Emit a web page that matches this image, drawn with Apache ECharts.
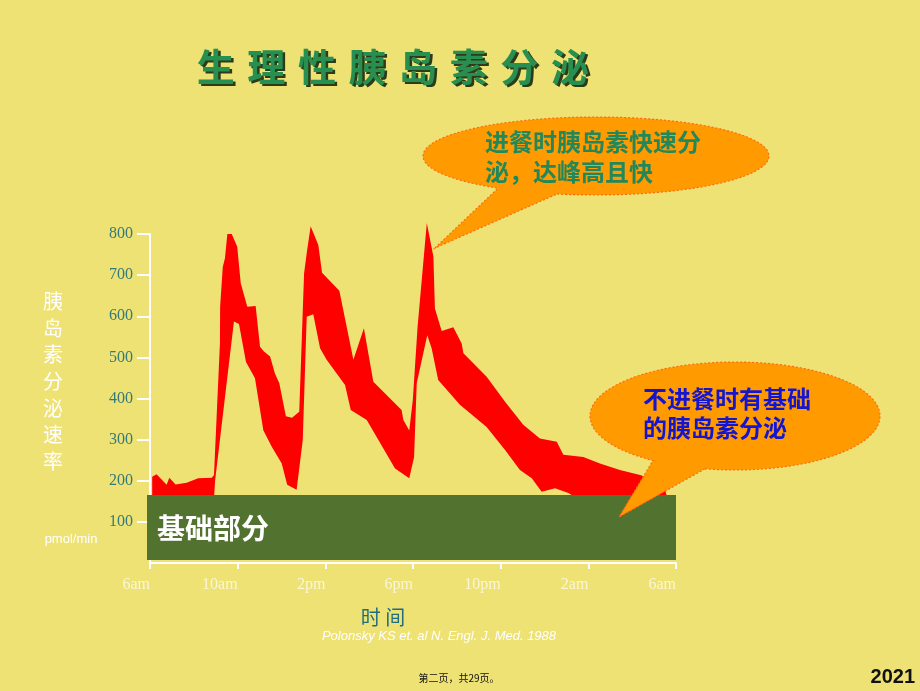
<!DOCTYPE html>
<html>
<head>
<meta charset="utf-8">
<script src="https://cdn.jsdelivr.net/npm/echarts@6/dist/echarts.min.js"></script>
<style>
html,body{margin:0;padding:0;background:#EEE275;}
#chart{width:920px;height:691px;}
</style>
</head>
<body>
<div id="chart"></div>
<script>
// ---- data ----
const timeLabels = ['6am', '10am', '2pm', '6pm', '10pm', '2am', '6am'];
const yTicks = [100, 200, 300, 400, 500, 600, 700, 800];
// upper edge of the secretion band: [hours after 6am, pmol/min]
const upperBand = [[0.1,210],[0.3,216],[0.76,190],[0.88,207],[1.17,191],[1.67,195],[2.2,206],[2.82,207],[2.92,214],[3.19,534],[3.2,623],[3.32,720],[3.42,741],[3.53,800],[3.73,800],[3.98,769],[4.14,680],[4.44,623],[4.82,625],[5.02,526],[5.2,514],[5.48,502],[5.7,461],[5.9,437],[6.2,357],[6.48,353],[6.81,368],[7.03,704],[7.15,753],[7.33,819],[7.68,773],[7.85,706],[8.64,662],[9.28,494],[9.76,571],[10.19,441],[11.48,372],[11.56,348],[11.83,322],[11.99,396],[12.21,575],[12.63,827],[12.93,745],[13.0,619],[13.31,564],[13.84,573],[14.22,534],[14.3,510],[15.36,453],[16.2,392],[17.03,336],[17.79,303],[18.56,295],[18.86,263],[19.77,258],[20.53,242],[21.44,226],[22.36,214],[23.42,194],[23.57,165],[23.57,140]];
// lower edge of the band
const lowerBand = [[0.1,140],[2.9,140],[2.97,200],[3.83,587],[4.06,581],[4.38,489],[4.79,449],[5.17,323],[5.55,283],[6.01,242],[6.26,190],[6.69,178],[6.97,299],[7.15,599],[7.45,605],[7.76,522],[8.06,494],[8.9,433],[9.16,372],[9.89,348],[11.18,230],[11.83,206],[12.05,258],[12.17,437],[12.65,554],[12.85,522],[13.15,445],[14.14,385],[15.36,331],[16.2,275],[16.88,226],[17.42,206],[17.87,173],[18.48,182],[19.09,170],[20,140],[23.57,140]];

const titleText = '生理性胰岛素分泌';
const yName = '胰岛素分泌速率';
const callout1Lines = ['进餐时胰岛素快速分', '泌，达峰高且快'];
const callout2Lines = ['不进餐时有基础', '的胰岛素分泌'];

// ---- chart ----
const chart = echarts.init(document.getElementById('chart'));
const CJK = "'Noto Sans CJK SC', sans-serif";
const graphics = [];

// base box
graphics.push({type:'rect', z:100, shape:{x:147, y:495, width:529, height:65}, style:{fill:'#52732F'}});
graphics.push({type:'text', z:101, x:157, y:528, style:{text:'基础部分', font:'bold 28px ' + CJK, fill:'#ffffff', textAlign:'left', textVerticalAlign:'middle'}});

// callouts (ellipse + tail outline as one polygon)
function callout(cx, cy, rx, ry, ax, bx, tipX, tipY) {
  const tA = Math.acos((ax - cx) / rx);
  const tB = Math.acos((bx - cx) / rx);
  const pts = [];
  const n = 120;
  const end = tA - 2 * Math.PI;
  for (let i = 0; i <= n; i++) {
    const t = tB + (end - tB) * i / n;
    pts.push([cx + rx * Math.cos(t), cy + ry * Math.sin(t)]);
  }
  pts.push([tipX, tipY]);
  return {
    type:'polygon', z:110,
    shape:{points:pts},
    style:{fill:'#FF9A00', stroke:'#FF6A10', lineWidth:1.2, lineDash:[2,2]}
  };
}
graphics.push(callout(596, 156, 173, 39, 498, 557, 435, 248));
graphics.push(callout(735, 416, 145, 54, 653, 705, 619, 517));
callout1Lines.forEach(function (t, i) {
  graphics.push({type:'text', z:111, x:485, y:142 + i * 30, style:{text:t, font:'bold 24px ' + CJK, fill:'#22885A', textAlign:'left', textVerticalAlign:'middle'}});
});
callout2Lines.forEach(function (t, i) {
  graphics.push({type:'text', z:111, x:643, y:399 + i * 29, style:{text:t, font:'bold 24px ' + CJK, fill:'#1515D0', textAlign:'left', textVerticalAlign:'middle'}});
});

// title with spread characters and shadow
titleText.split('').forEach(function (ch, i) {
  const cx = 215.7 + i * 50.6;
  graphics.push({type:'text', z:90, x:cx + 2.5, y:69, style:{text:ch, font:'bold 38px ' + CJK, fill:'#2E3A18', textAlign:'center', textVerticalAlign:'middle'}});
  graphics.push({type:'text', z:91, x:cx, y:66.5, style:{text:ch, font:'bold 38px ' + CJK, fill:'#279050', textAlign:'center', textVerticalAlign:'middle'}});
});

// y axis name (vertical)
yName.split('').forEach(function (ch, i) {
  graphics.push({type:'text', z:90, x:53, y:301.7 + i * 26.6, style:{text:ch, font:'20px ' + CJK, fill:'#ffffff', textAlign:'center', textVerticalAlign:'middle'}});
});
graphics.push({type:'text', z:90, x:71, y:539, style:{text:'pmol/min', font:'13px "Liberation Sans", Arial, sans-serif', fill:'#ffffff', textAlign:'center', textVerticalAlign:'middle'}});

// x axis name
graphics.push({type:'text', z:90, x:383, y:617, style:{text:'时 间', font:'20px ' + CJK, fill:'#1E6E80', textAlign:'center', textVerticalAlign:'middle'}});
graphics.push({type:'text', z:90, x:439, y:636, style:{text:'Polonsky KS et. al N. Engl. J. Med. 1988', font:'italic 13px "Liberation Sans", Arial, sans-serif', fill:'#ffffff', textAlign:'center', textVerticalAlign:'middle'}});

// footer
graphics.push({type:'text', z:90, x:459, y:678, style:{text:'第二页，共29页。', font:'10px ' + CJK, fill:'#111111', textAlign:'center', textVerticalAlign:'middle'}});
graphics.push({type:'text', z:90, x:915, y:677, style:{text:'2021', font:'bold 20px "Liberation Sans", Arial, sans-serif', fill:'#111111', textAlign:'right', textVerticalAlign:'middle'}});

const option = {
  backgroundColor:'#EEE275',
  animation:false,
  grid:{left:150, right:244, top:234, bottom:128},
  xAxis:{
    type:'value', min:0, max:24, interval:4,
    axisLine:{show:true, lineStyle:{color:'#ffffff', width:2}},
    axisTick:{show:true, length:6, lineStyle:{color:'#ffffff', width:2}},
    splitLine:{show:false},
    axisLabel:{
      formatter:function (v) { return timeLabels[Math.round(v / 4)]; },
      align:'right', margin:14, color:'#FBF6D5',
      fontFamily:'"Liberation Serif", "DejaVu Serif", serif', fontSize:16,
      showMinLabel:true, showMaxLabel:true
    }
  },
  yAxis:{
    type:'value', min:0, max:800, interval:100,
    axisLine:{show:true, lineStyle:{color:'#ffffff', width:2}},
    axisTick:{show:true, length:13, lineStyle:{color:'#ffffff', width:2}},
    splitLine:{show:false},
    axisLabel:{
      showMinLabel:false, margin:17, color:'#347A7A',
      fontFamily:'"Liberation Serif", "DejaVu Serif", serif', fontSize:16,
      formatter:function (v) { return yTicks.indexOf(v) >= 0 ? String(v) : ''; }
    }
  },
  series:[{
    type:'custom',
    clip:false,
    data:[[0, 0]],
    renderItem:function (params, api) {
      const pts = [];
      upperBand.forEach(function (p) { pts.push(api.coord(p)); });
      for (let i = lowerBand.length - 1; i >= 0; i--) pts.push(api.coord(lowerBand[i]));
      return {type:'polygon', shape:{points:pts}, style:{fill:'#FF0000', stroke:'none'}};
    }
  }],
  graphic:{elements:graphics}
};
chart.setOption(option);
</script>
</body>
</html>
